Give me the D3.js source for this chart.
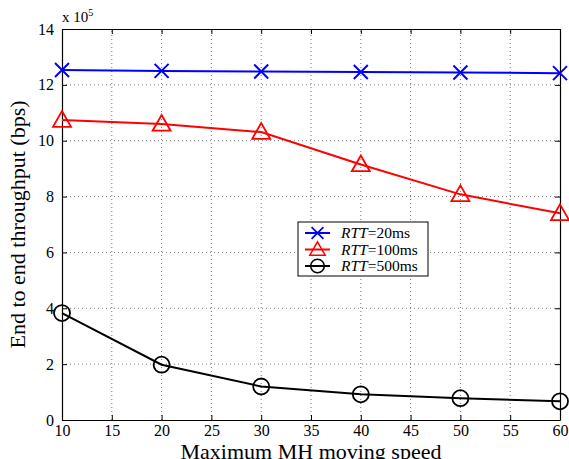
<!DOCTYPE html>
<html><head><meta charset="utf-8">
<script src="https://cdn.jsdelivr.net/npm/d3@7"></script>
<style>body{margin:0;background:#fff}svg{display:block}text{font-family:"Liberation Serif","Times New Roman",serif}</style>
</head><body><div id="c"></div>
<script>
const speeds = [10, 20, 30, 40, 50, 60];
const rtt20 = [12.53, 12.50, 12.48, 12.46, 12.44, 12.42];
const rtt100 = [10.74, 10.60, 10.31, 9.15, 8.08, 7.40];
const rtt500 = [3.83, 1.98, 1.20, 0.92, 0.78, 0.67];
const xTicks = [10, 15, 20, 25, 30, 35, 40, 45, 50, 55, 60];
const yTicks = [0, 2, 4, 6, 8, 10, 12, 14];
const seriesNames = ["20ms", "100ms", "500ms"];

const W = 569, H = 459;
const m = {l: 62, r: 9, t: 29, b: 39};
const svg = d3.select("#c").append("svg").attr("width", W).attr("height", H);
const x = d3.scaleLinear().domain([10, 60]).range([m.l, W - m.r]);
const y = d3.scaleLinear().domain([0, 14]).range([H - m.b, m.t]);

// grid
const g = svg.append("g");
g.selectAll(".vg").data(xTicks.slice(1, -1)).join("line")
  .attr("x1", d => x(d)).attr("x2", d => x(d)).attr("y1", y(0)).attr("y2", y(14))
  .attr("stroke", "#555").attr("stroke-width", 0.8).attr("stroke-dasharray", "1,3");
g.selectAll(".hg").data(yTicks.slice(1, -1)).join("line")
  .attr("x1", x(10)).attr("x2", x(60)).attr("y1", d => y(d)).attr("y2", d => y(d))
  .attr("stroke", "#555").attr("stroke-width", 0.8).attr("stroke-dasharray", "1,3");

// axes (ticks inward)
const xa = svg.append("g").attr("transform", `translate(0,${y(0)})`)
  .call(d3.axisBottom(x).tickValues(xTicks).tickSizeInner(-5).tickSizeOuter(0).tickPadding(5));
const xt = svg.append("g").attr("transform", `translate(0,${y(14)})`)
  .call(d3.axisTop(x).tickValues(xTicks).tickSizeInner(-5).tickSizeOuter(0).tickFormat(""));
const ya = svg.append("g").attr("transform", `translate(${x(10)},0)`)
  .call(d3.axisLeft(y).tickValues(yTicks).tickSizeInner(-5).tickSizeOuter(0).tickPadding(8));
const yr = svg.append("g").attr("transform", `translate(${x(60)},0)`)
  .call(d3.axisRight(y).tickValues(yTicks).tickSizeInner(-5).tickSizeOuter(0).tickFormat(""));
[xa, xt, ya, yr].forEach(a => {
  a.select(".domain").attr("stroke", "#000").attr("stroke-width", 1.2);
  a.selectAll(".tick line").attr("stroke", "#000");
  a.selectAll("text").attr("font-family", "Liberation Serif").attr("font-size", 16).attr("fill", "#000");
});

// exponent label
const ex = svg.append("text").attr("x", x(10)).attr("y", 22).attr("font-size", 15);
ex.append("tspan").text("x 10");
ex.append("tspan").attr("font-size", 10).attr("dy", -6).text("5");

// axis labels
svg.append("text").attr("x", (x(10) + x(60)) / 2).attr("y", 459).attr("text-anchor", "middle")
  .attr("font-size", 22).text("Maximum MH moving speed");
svg.append("text").attr("transform", `translate(25,${(y(0) + y(14)) / 2}) rotate(-90)`)
  .attr("text-anchor", "middle").attr("font-size", 22).text("End to end throughput (bps)");

const line = d3.line().x((d, i) => x(speeds[i])).y(d => y(d));
function marker(sel, type, color) {
  if (type === "x") {
    const s = 7;
    sel.append("path").attr("d", `M${-s},${-s}L${s},${s}M${-s},${s}L${s},${-s}`)
      .attr("stroke", color).attr("stroke-width", 2).attr("fill", "none");
  } else if (type === "tri") {
    const s = 9;
    sel.append("path").attr("d", `M0,${-s}L${s},${s * 0.75}L${-s},${s * 0.75}Z`)
      .attr("stroke", color).attr("stroke-width", 1.8).attr("fill", "none");
  } else {
    sel.append("circle").attr("r", 8).attr("stroke", color).attr("stroke-width", 1.8).attr("fill", "none");
  }
}
const series = [
  {vals: rtt20, color: "#0000ff", type: "x"},
  {vals: rtt100, color: "#ff0000", type: "tri"},
  {vals: rtt500, color: "#000000", type: "o"}
];
series.forEach(s => {
  svg.append("path").datum(s.vals).attr("d", line).attr("fill", "none")
    .attr("stroke", s.color).attr("stroke-width", 2);
  s.vals.forEach((v, i) => {
    const gm = svg.append("g").attr("transform", `translate(${x(speeds[i])},${y(v)})`);
    marker(gm, s.type, s.color);
  });
});

// legend
const lg = svg.append("g").attr("transform", "translate(298,222)");
lg.append("rect").attr("width", 130).attr("height", 54).attr("fill", "#fff")
  .attr("stroke", "#000").attr("stroke-width", 1);
series.forEach((s, i) => {
  const yy = 11 + i * 16.5;
  lg.append("line").attr("x1", 7).attr("x2", 32).attr("y1", yy).attr("y2", yy)
    .attr("stroke", s.color).attr("stroke-width", 2);
  const gm = lg.append("g").attr("transform", `translate(19.5,${yy}) scale(0.85)`);
  marker(gm, s.type, s.color);
  const t = lg.append("text").attr("x", 43).attr("y", yy + 5).attr("font-size", 15.5);
  t.append("tspan").attr("font-style", "italic").text("RTT");
  t.append("tspan").text("=" + seriesNames[i]);
});
</script></body></html>
